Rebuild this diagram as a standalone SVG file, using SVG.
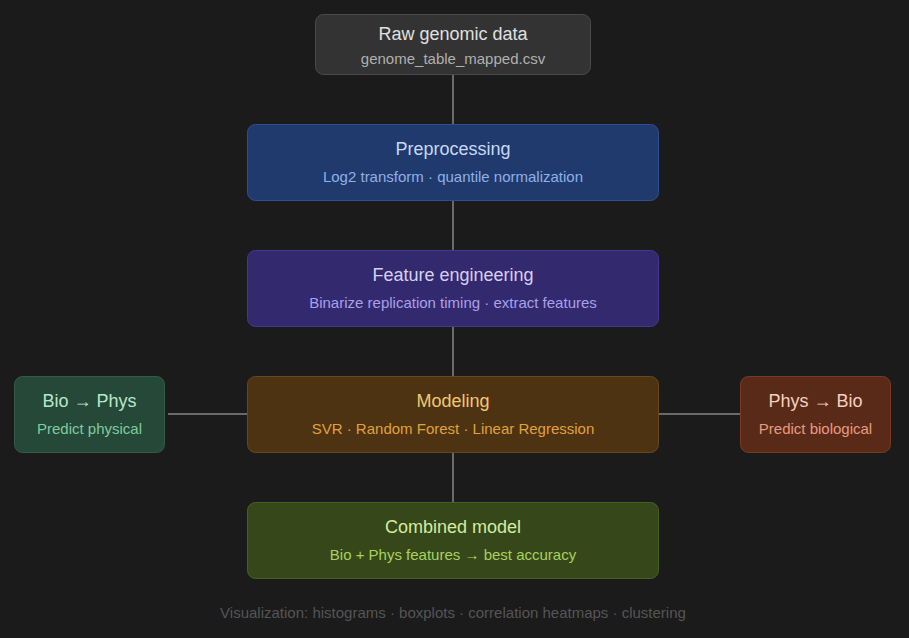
<svg xmlns="http://www.w3.org/2000/svg" width="909" height="638" viewBox="0 0 909 638">
<style>
text{font-family:"Liberation Sans",Arial,sans-serif;text-anchor:middle}
.t{font-size:18px}.s{font-size:15px}
.c{stroke:#6a6a6a;stroke-width:2;fill:none}
</style>
<rect width="909" height="638" fill="#1b1b1b"/>
<g id="connectors">
<line class="c" x1="453" y1="74" x2="453" y2="124"/>
<line class="c" x1="453" y1="200" x2="453" y2="250"/>
<line class="c" x1="453" y1="326" x2="453" y2="376"/>
<line class="c" x1="453" y1="452" x2="453" y2="502"/>
<line class="c" x1="168" y1="414" x2="247" y2="414"/>
<line class="c" x1="659" y1="414" x2="740" y2="414"/>
</g>
<g id="raw"><rect x="315.5" y="14.5" width="275" height="60" rx="8" fill="#333" stroke="#4a4a4a"/>
<text class="t" x="453" y="40" fill="#e0e0e0">Raw genomic data</text>
<text class="s" x="453" y="64" fill="#b0b0b0">genome_table_mapped.csv</text></g>
<g id="pre"><rect x="247.5" y="124.5" width="411" height="76" rx="8" fill="#203a6e" stroke="#2e4f8f"/>
<text class="t" x="453" y="155" fill="#c8d8f5">Preprocessing</text>
<text class="s" x="453" y="182" fill="#8fb0e8">Log2 transform · quantile normalization</text></g>
<g id="feat"><rect x="247.5" y="250.5" width="411" height="76" rx="8" fill="#33296e" stroke="#44398f"/>
<text class="t" x="453" y="281" fill="#d6d0f5">Feature engineering</text>
<text class="s" x="453" y="308" fill="#a9a0ea">Binarize replication timing · extract features</text></g>
<g id="model"><rect x="247.5" y="376.5" width="411" height="76" rx="8" fill="#4d3312" stroke="#6a4718"/>
<text class="t" x="453" y="407" fill="#f0c870">Modeling</text>
<text class="s" x="453" y="434" fill="#e0a23a">SVR · Random Forest · Linear Regression</text></g>
<g id="bio"><rect x="14.5" y="376.5" width="150" height="76" rx="8" fill="#264838" stroke="#335c48"/>
<text class="t" x="89.5" y="407" fill="#b8e6cc">Bio → Phys</text>
<text class="s" x="89.5" y="434" fill="#7fcc9f">Predict physical</text></g>
<g id="phys"><rect x="740.5" y="376.5" width="150" height="76" rx="8" fill="#5a2a18" stroke="#783a22"/>
<text class="t" x="815.5" y="407" fill="#f5d0c0">Phys → Bio</text>
<text class="s" x="815.5" y="434" fill="#e89a80">Predict biological</text></g>
<g id="comb"><rect x="247.5" y="502.5" width="411" height="76" rx="8" fill="#36481a" stroke="#485f22"/>
<text class="t" x="453" y="533" fill="#d4ec9e">Combined model</text>
<text class="s" x="453" y="560" fill="#a9d060">Bio + Phys features → best accuracy</text></g>
<text class="s" x="453" y="618" fill="#555">Visualization: histograms · boxplots · correlation heatmaps · clustering</text>
</svg>
